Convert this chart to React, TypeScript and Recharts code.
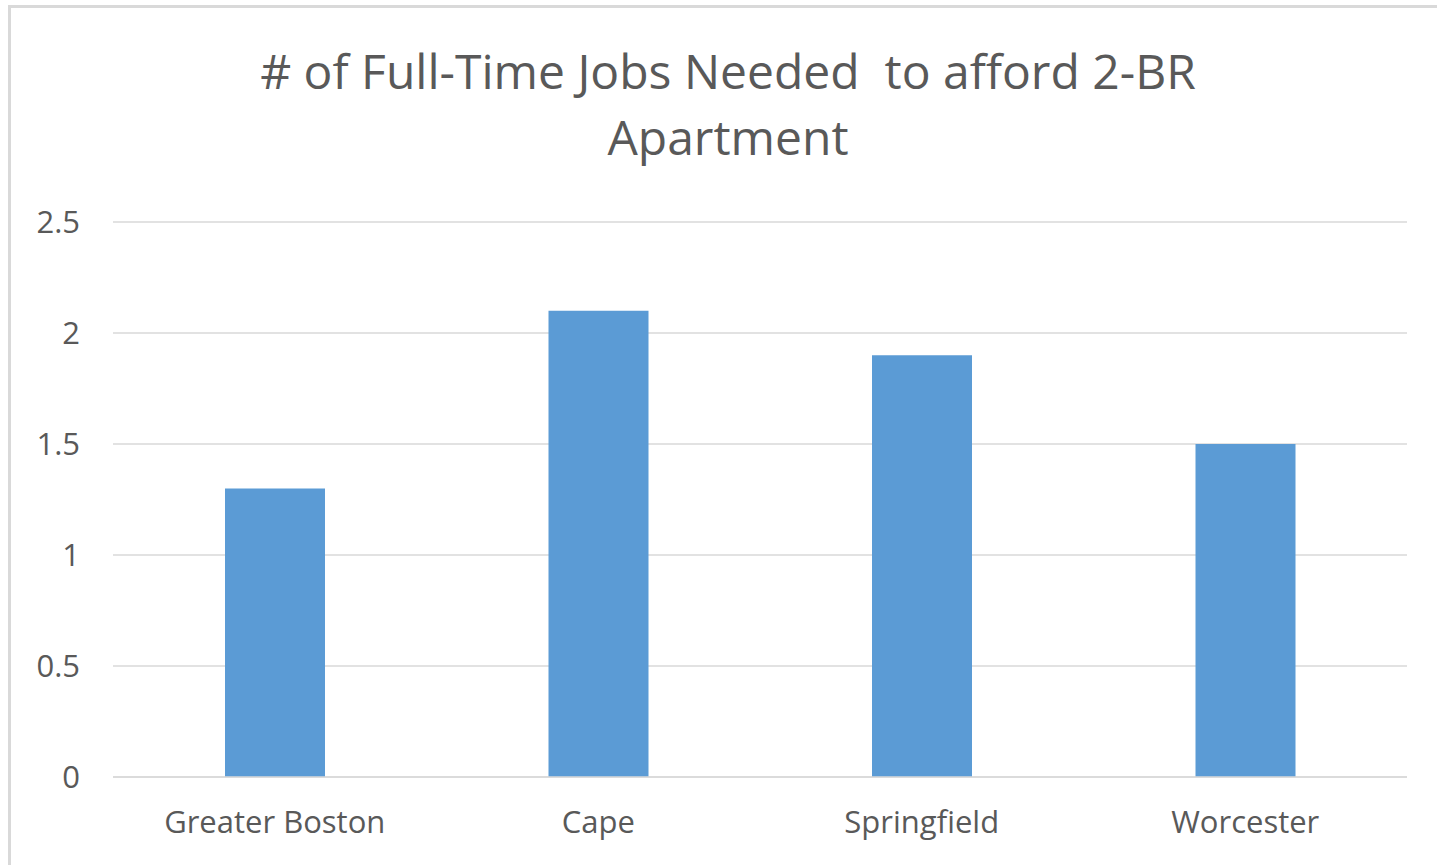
import React from 'react';
import { BarChart, Bar, XAxis, YAxis, CartesianGrid } from 'recharts';

const regions = ['Greater Boston', 'Cape', 'Springfield', 'Worcester'];
const jobsNeeded = [1.3, 2.1, 1.9, 1.5];
const yTicks = [0, 0.5, 1, 1.5, 2, 2.5];
const titleLines = ['# of Full-Time Jobs Needed  to afford 2-BR', 'Apartment'];

const data = regions.map((name, i) => ({ name, jobs: jobsNeeded[i] }));

const FONT = 'Open Sans, sans-serif';
const TEXT = '#595959';

export default function App() {
  return (
    <div style={{ position: 'absolute', left: 0, top: 0, width: 1437, height: 865, overflow: 'hidden', background: '#fff' }}>
      {/* chart frame, cut off on the right and bottom like the screenshot */}
      <div style={{ position: 'absolute', left: 8, top: 5, width: 1460, height: 900, border: '3px solid #d9d9d9', boxSizing: 'border-box' }} />

      <div style={{ position: 'absolute', left: 0, top: 0 }}>
        <BarChart
          width={1437}
          height={865}
          data={data}
          margin={{ top: 222, right: 30, left: 33, bottom: 28 }}
        >
          <CartesianGrid vertical={false} stroke="#d9d9d9" strokeWidth={1.5} />
          <XAxis
            dataKey="name"
            axisLine={{ stroke: '#d9d9d9', strokeWidth: 1.5 }}
            tickLine={false}
            tickSize={0}
            tickMargin={34}
            height={60}
            tick={{ fill: TEXT, fontSize: 31, fontFamily: FONT }}
          />
          <YAxis
            domain={[0, 2.5]}
            ticks={yTicks}
            axisLine={false}
            tickLine={false}
            tickSize={0}
            tickMargin={33}
            width={80}
            tick={{ fill: TEXT, fontSize: 31, fontFamily: FONT }}
          />
          <Bar dataKey="jobs" fill="#5b9bd5" barSize={100} isAnimationActive={false} />
        </BarChart>
      </div>

      <svg width={1437} height={200} style={{ position: 'absolute', left: 0, top: 0 }}>
        {titleLines.map((line, i) => (
          <text
            key={i}
            x={728}
            y={89 + i * 66}
            textAnchor="middle"
            fill={TEXT}
            fontSize={48}
            fontFamily={FONT}
            style={{ whiteSpace: 'pre' }}
          >
            {line}
          </text>
        ))}
      </svg>
    </div>
  );
}
